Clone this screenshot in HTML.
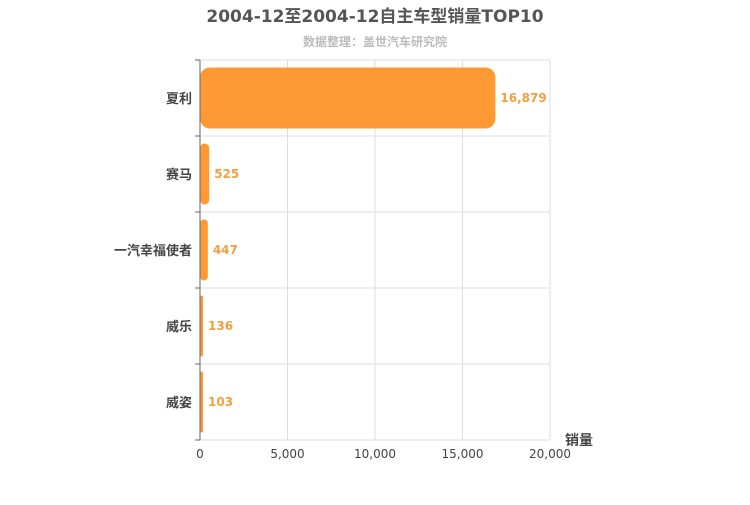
<!DOCTYPE html>
<html><head><meta charset="utf-8"><style>
body{margin:0;background:#fff;}
svg text{font-family:"DejaVu Sans","Noto Sans CJK SC",sans-serif;}
</style></head><body>
<svg width="750" height="500">
<text x="375" y="22" text-anchor="middle" font-size="17" font-weight="bold" fill="#555">2004-12至2004-12自主车型销量TOP10</text>
<text x="375" y="46" text-anchor="middle" font-size="12" font-weight="bold" fill="#bbb">数据整理：盖世汽车研究院</text>
<g id="grid"></g>
<g id="bars"></g>
<g id="axes"></g>
<text x="565" y="445" font-size="14" font-weight="bold" fill="#444">销量</text>
</svg>
<script>
const categories=["夏利","赛马","一汽幸福使者","威乐","威姿"];
const values=[16879,525,447,136,103];
const valueLabels=["16,879","525","447","136","103"];
const tickValues=[0,5000,10000,15000,20000];
const tickLabels=["0","5,000","10,000","15,000","20,000"];
const NS="http://www.w3.org/2000/svg";
const x0=200,x1=550,y0=60,y1=440,xmax=20000;
const xs=v=>x0+(v/xmax)*(x1-x0);
const band=(y1-y0)/categories.length;
function mk(t,a,p){const e=document.createElementNS(NS,t);for(const k in a)e.setAttribute(k,a[k]);p.appendChild(e);return e;}
const g=document.getElementById('grid'),b=document.getElementById('bars'),ax=document.getElementById('axes');
tickValues.forEach((v,i)=>{
 if(i>0){const l=mk('line',{x1:xs(v),x2:xs(v),y1:y0,y2:y1,stroke:'#ddd'},g);
 
 }
 const t=mk('text',{x:xs(v),y:y1+18,'text-anchor':'middle','font-size':12,fill:'#444'},ax);
 t.textContent=tickLabels[i];
 
 
});
for(let i=0;i<=categories.length;i++){
 const y=y0+i*band;
 const l=mk('line',{x1:x0,x2:x1,y1:y,y2:y,stroke:'#ddd'},g);
 
 
 const tk=mk('line',{x1:x0-5,x2:x0,y1:y,y2:y,stroke:'#666'},ax);
 
 
}
const al=mk('line',{x1:x0,x2:x0,y1:y0,y2:y1,stroke:'#666'},ax);


categories.forEach((c,i)=>{
 const yc=y0+band*(i+0.5),h=61;
 const w=Math.max(xs(values[i])-x0,3);
 const r=mk('rect',{x:x0,y:yc-h/2,width:w,height:h,rx:Math.min(10,w/2),fill:'#ff9933'},b);
 
 
 const vt=mk('text',{x:x0+w+5,y:yc+4,'font-size':12,'font-weight':'bold',fill:'#f0a040'},b);
 vt.textContent=valueLabels[i];
 
 
 const ct=mk('text',{x:x0-8,y:yc+5,'text-anchor':'end','font-size':13,'font-weight':'bold',fill:'#444'},ax);
 ct.textContent=c;
 
 
});
</script>
</body></html>
